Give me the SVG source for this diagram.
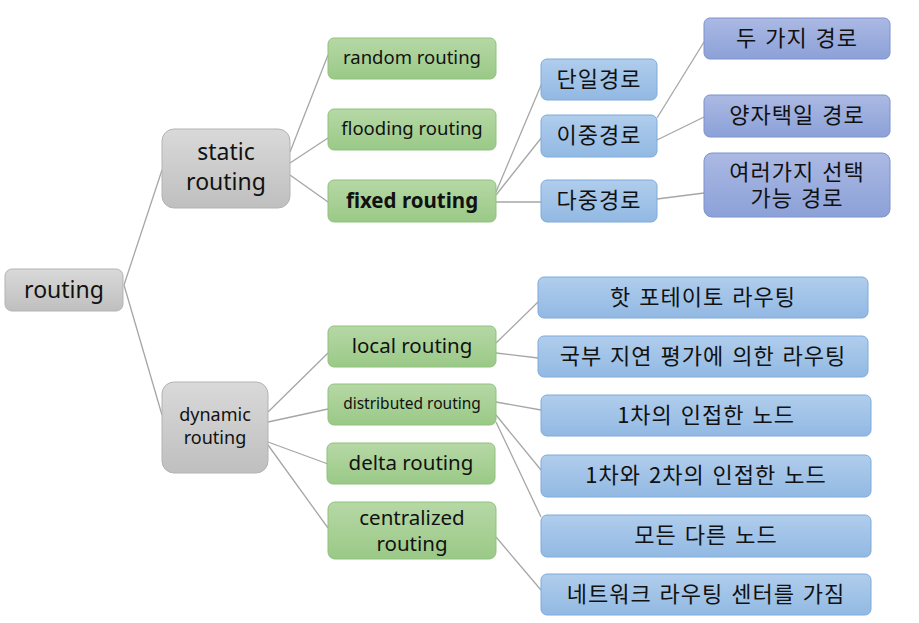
<svg xmlns="http://www.w3.org/2000/svg" width="919" height="623" viewBox="0 0 919 623">
<defs>
<linearGradient id="gGray" x1="0" y1="0" x2="0" y2="1"><stop offset="0" stop-color="#d9d9d9"/><stop offset="1" stop-color="#bfbfbf"/></linearGradient>
<linearGradient id="gGreen" x1="0" y1="0" x2="0" y2="1"><stop offset="0" stop-color="#b6d8a5"/><stop offset="1" stop-color="#9ac987"/></linearGradient>
<linearGradient id="gBlue" x1="0" y1="0" x2="0" y2="1"><stop offset="0" stop-color="#b0cdec"/><stop offset="1" stop-color="#92b9e3"/></linearGradient>
<linearGradient id="gBlue2" x1="0" y1="0" x2="0" y2="1"><stop offset="0" stop-color="#abb9e3"/><stop offset="1" stop-color="#8ca1d8"/></linearGradient>
</defs>
<style>
.gray{fill:url(#gGray);stroke:#b3b3b3;stroke-width:1}
.green{fill:url(#gGreen);stroke:#8fc27c;stroke-width:1}
.blue{fill:url(#gBlue);stroke:#7eaadb;stroke-width:1}
.blue2{fill:url(#gBlue2);stroke:#7d92cd;stroke-width:1}
text{font-family:"Noto Sans","Noto Sans CJK KR",sans-serif;fill:#111;text-anchor:middle}
.k{font-family:"Noto Sans CJK KR","Noto Sans",sans-serif;font-size:22px;letter-spacing:1px;word-spacing:2px}
.lines line{stroke:#a6a6a6;stroke-width:1.3}
</style>
<rect width="919" height="623" fill="#ffffff"/>
<g class="lines" id="connectors">
<line x1="124" y1="285" x2="162" y2="170"/>
<line x1="124" y1="285" x2="162" y2="415"/>
<line x1="290" y1="152" x2="328" y2="55"/>
<line x1="290" y1="163" x2="328" y2="138"/>
<line x1="290" y1="175" x2="328" y2="202"/>
<line x1="496" y1="192" x2="542" y2="83"/>
<line x1="496" y1="195" x2="542" y2="137"/>
<line x1="496" y1="202" x2="541" y2="202"/>
<line x1="657" y1="118" x2="704" y2="42"/>
<line x1="657" y1="140" x2="704" y2="117"/>
<line x1="657" y1="199" x2="704" y2="193"/>
<line x1="268" y1="412" x2="328" y2="353"/>
<line x1="268" y1="422" x2="328" y2="409"/>
<line x1="268" y1="442" x2="328" y2="464"/>
<line x1="268" y1="445" x2="328" y2="528"/>
<line x1="496" y1="343" x2="538" y2="302"/>
<line x1="496" y1="353" x2="538" y2="358"/>
<line x1="496" y1="402" x2="541" y2="410"/>
<line x1="496" y1="415" x2="541" y2="470"/>
<line x1="496" y1="422" x2="541" y2="517"/>
<line x1="496" y1="537" x2="541" y2="590"/>
</g>
<g id="n-routing"><rect class="gray" x="5" y="269" width="118" height="42" rx="7"/><text x="64" y="298" font-size="23">routing</text></g>
<g id="n-static"><rect class="gray" x="162" y="129" width="128" height="79" rx="12"/><text x="226" y="160" font-size="23">static</text><text x="226" y="190" font-size="23">routing</text></g>
<g id="n-random"><rect class="green" x="328" y="38" width="168" height="41" rx="6"/><text x="412" y="64" font-size="18.5">random routing</text></g>
<g id="n-flooding"><rect class="green" x="328" y="109" width="168" height="41" rx="6"/><text x="412" y="135" font-size="18.5">flooding routing</text></g>
<g id="n-fixed"><rect class="green" x="328" y="180" width="168" height="42" rx="6"/><text x="412" y="208" font-size="20.5" font-weight="bold">fixed routing</text></g>
<g id="n-single"><rect class="blue" x="541" y="59" width="116" height="41" rx="6"/><text class="k" x="599" y="87">단일경로</text></g>
<g id="n-double"><rect class="blue" x="541" y="115" width="116" height="42" rx="6"/><text class="k" x="599" y="143">이중경로</text></g>
<g id="n-multi"><rect class="blue" x="541" y="180" width="116" height="42" rx="6"/><text class="k" x="599" y="208">다중경로</text></g>
<g id="n-two"><rect class="blue2" x="704" y="18" width="186" height="41" rx="6"/><text class="k" x="797" y="46">두 가지 경로</text></g>
<g id="n-alt"><rect class="blue2" x="704" y="95" width="186" height="42" rx="6"/><text class="k" x="797" y="123">양자택일 경로</text></g>
<g id="n-many"><rect class="blue2" x="704" y="153" width="186" height="64" rx="8"/><text class="k" x="797" y="180">여러가지 선택</text><text class="k" x="797" y="206">가능 경로</text></g>
<g id="n-dynamic"><rect class="gray" x="162" y="382" width="106" height="91" rx="12"/><text x="215" y="421" font-size="18">dynamic</text><text x="215" y="444" font-size="18">routing</text></g>
<g id="n-local"><rect class="green" x="328" y="326" width="168" height="41" rx="6"/><text x="412" y="353" font-size="20.5">local routing</text></g>
<g id="n-distributed"><rect class="green" x="328" y="384" width="168" height="41" rx="6"/><text x="412" y="409" font-size="15.5">distributed routing</text></g>
<g id="n-delta"><rect class="green" x="327" y="443" width="168" height="41" rx="6"/><text x="411" y="470" font-size="20.5">delta routing</text></g>
<g id="n-central"><rect class="green" x="328" y="502" width="168" height="57" rx="7"/><text x="412" y="525" font-size="20.5">centralized</text><text x="412" y="551" font-size="20.5">routing</text></g>
<g id="n-hot"><rect class="blue" x="538" y="277" width="330" height="41" rx="6"/><text class="k" x="703" y="305">핫 포테이토 라우팅</text></g>
<g id="n-local-delay"><rect class="blue" x="538" y="336" width="330" height="41" rx="6"/><text class="k" x="703" y="364">국부 지연 평가에 의한 라우팅</text></g>
<g id="n-first"><rect class="blue" x="541" y="395" width="330" height="41" rx="6"/><text class="k" x="706" y="423">1차의 인접한 노드</text></g>
<g id="n-second"><rect class="blue" x="541" y="455" width="330" height="42" rx="6"/><text class="k" x="706" y="483">1차와 2차의 인접한 노드</text></g>
<g id="n-all"><rect class="blue" x="541" y="515" width="330" height="42" rx="6"/><text class="k" x="706" y="543">모든 다른 노드</text></g>
<g id="n-center"><rect class="blue" x="541" y="574" width="330" height="41" rx="6"/><text class="k" x="706" y="602">네트워크 라우팅 센터를 가짐</text></g>
</svg>
